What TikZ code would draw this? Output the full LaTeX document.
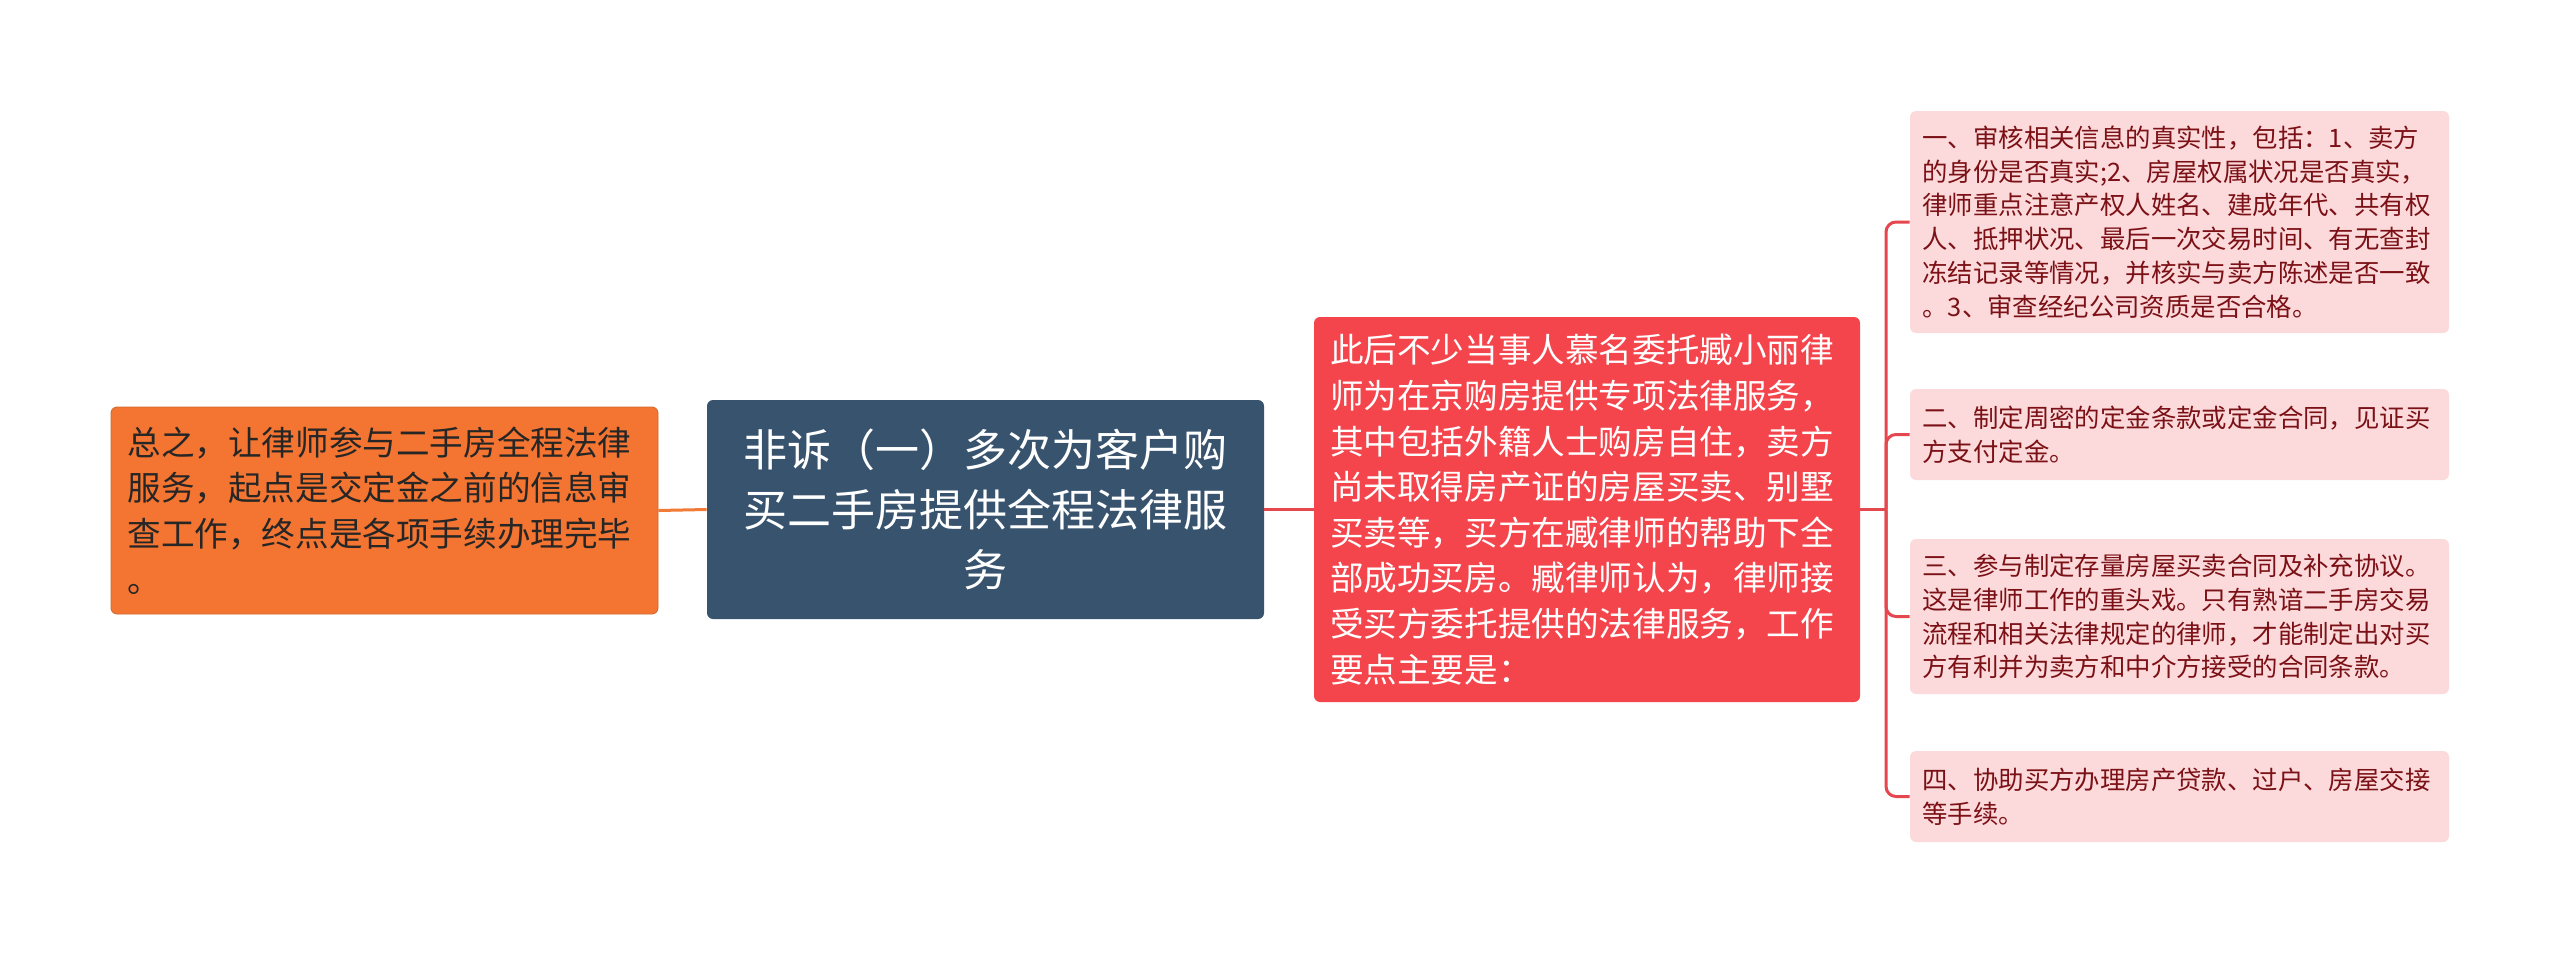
\documentclass[tikz,border=0pt]{standalone}
\usepackage{fontspec}
\setmainfont{Noto Sans CJK SC}
\usepackage{xcolor}
\usepackage{tikz}
\usetikzlibrary{positioning,calc}
\definecolor{orangefill}{HTML}{F37531}
\definecolor{orangeline}{HTML}{F07A36}
\definecolor{darkfill}{HTML}{38536E}
\definecolor{redfill}{HTML}{F5454C}
\definecolor{redline}{HTML}{E5474F}
\definecolor{pinkfill}{HTML}{FCDADB}
\definecolor{pinktext}{HTML}{7B1116}

\begin{document}
\begin{tikzpicture}[x=0.5pt, y=-0.5pt,
    box/.style={rounded corners=3pt, inner sep=0pt, align=left},
    leftbox/.style={box, fill=orangefill, draw=orangeline!85!black, line width=0.4pt, text=black!85, text width=257pt, minimum width=273.5pt, minimum height=103.5pt, font=\fontsize{16.8}{22.8}\selectfont},
    rootbox/.style={box, fill=darkfill, text=white, align=center, text width=258pt, minimum width=278.5pt, minimum height=109.5pt, font=\fontsize{22}{30}\selectfont},
    mainbox/.style={box, fill=redfill, text=white, text width=257pt, minimum width=273pt, minimum height=192.5pt, font=\fontsize{16.8}{22.8}\selectfont},
    itembox/.style={box, fill=pinkfill, text=pinktext, text width=257pt, minimum width=269.5pt, font=\fontsize{12.7}{16.9}\selectfont},
    link/.style={line width=1.5pt}]
    \useasboundingbox (0,0) rectangle (2560,953);
    \node[leftbox] (sum) at (384.5,510.5) {总之，让律师参与二手房全程法律\\服务，起点是交定金之前的信息审\\查工作，终点是各项手续办理完毕\\。};
    \node[rootbox] (root) at (985.5,509.5) {非诉（一）多次为客户购\\买二手房提供全程法律服\\务};
    \node[mainbox] (main) at (1587,509.5) {此后不少当事人慕名委托臧小丽律\\师为在京购房提供专项法律服务，\\其中包括外籍人士购房自住，卖方\\尚未取得房产证的房屋买卖、别墅\\买卖等，买方在臧律师的帮助下全\\部成功买房。臧律师认为，律师接\\受买方委托提供的法律服务，工作\\要点主要是：};
    \node[itembox, minimum height=111pt] (one) at (2179.5,222) {一、审核相关信息的真实性，包括：1、卖方\\的身份是否真实;2、房屋权属状况是否真实，\\律师重点注意产权人姓名、建成年代、共有权\\人、抵押状况、最后一次交易时间、有无查封\\冻结记录等情况，并核实与卖方陈述是否一致\\。3、审查经纪公司资质是否合格。};
    \node[itembox, minimum height=45.5pt] (two) at (2179.5,434.5) {二、制定周密的定金条款或定金合同，见证买\\方支付定金。};
    \node[itembox, minimum height=77.5pt] (three) at (2179.5,616.5) {三、参与制定存量房屋买卖合同及补充协议。\\这是律师工作的重头戏。只有熟谙二手房交易\\流程和相关法律规定的律师，才能制定出对买\\方有利并为卖方和中介方接受的合同条款。};
    \node[itembox, minimum height=45.5pt] (four) at (2179.5,796.5) {四、协助买方办理房产贷款、过户、房屋交接\\等手续。};
    \coordinate (fork) at (1886,509.5);
    \draw[link, orangeline] (sum.east) -- (root.west);
    \draw[link, redline] (root.east) -- (main.west);
    \draw[link, redline] (main.east) -- (fork);
    \foreach \item in {one,two,three,four}
        \draw[link, redline, rounded corners=5pt] (fork) |- (\item.west);
\end{tikzpicture}
\end{document}
